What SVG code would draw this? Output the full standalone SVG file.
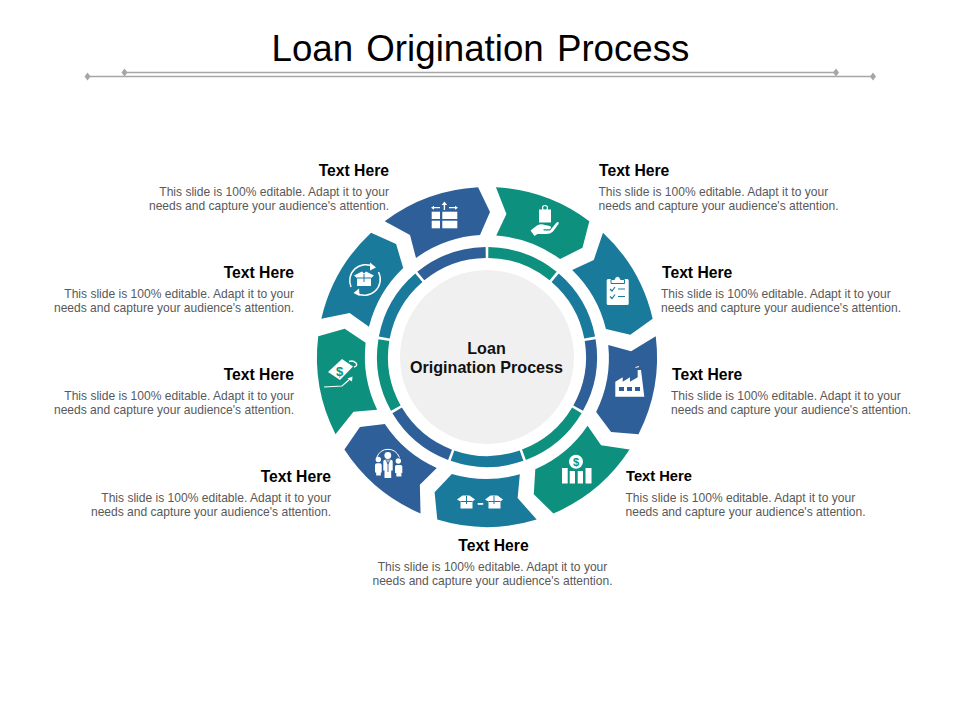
<svg xmlns="http://www.w3.org/2000/svg" width="960" height="720" viewBox="0 0 960 720">
<style>
text{font-family:"Liberation Sans",Arial,sans-serif}
.t{font-size:36.7px;fill:#000;word-spacing:3px}
.h{font-size:15.7px;font-weight:700;fill:#000}
.b{font-size:12.05px;fill:#595959}
.c{font-size:16.1px;font-weight:700;fill:#111;text-anchor:middle}
.e{text-anchor:end}
.m{text-anchor:middle}
.blue{fill:#2f5f98}.green{fill:#0e907e}.teal{fill:#1a7a9b}
.ablue{stroke:#2f5f98}.agreen{stroke:#0e907e}.ateal{stroke:#1a7a9b}
.arc{fill:none;stroke-width:11}
.rule{stroke:#a6a6a6;stroke-width:1.5}
.dia{fill:#a6a6a6}
.w{fill:#fff}
.ws{fill:none;stroke:#fff;stroke-width:1.5}
</style>
<defs>
<path id="seg" d="M384.700 221.200A170 170 0 0 1 478.100 187.200L490 212L480 235A122 122 0 0 0 416 258L410 235Z"/>
<path id="rng" d="M420.800 276.100A104.500 104.500 0 0 1 485.700 252.500"/>
<path id="dm" d="M0-4L3-0L0 4L-3 0Z"/>
</defs>
<rect width="960" height="720" fill="#fff"/>
<g id="title">
<text class="t m" x="480.500" y="61">Loan Origination Process</text>
<line class="rule" x1="124" y1="72.500" x2="836" y2="72.500"/>
<line class="rule" x1="87" y1="76.500" x2="873" y2="76.500"/>
<use href="#dm" class="dia" x="124.500" y="72.500"/><use href="#dm" class="dia" x="836" y="72.500"/>
<use href="#dm" class="dia" x="87.500" y="76.500"/><use href="#dm" class="dia" x="873" y="76.500"/>
</g>
<g id="center">
<circle cx="487" cy="357" r="87" fill="#f0f0f0"/>
<text class="c" x="486.500" y="354">Loan</text>
<text class="c" x="486.500" y="373">Origination Process</text>
</g>
<g id="node-1">
<use href="#seg" class="blue"/><use href="#rng" class="arc ablue"/>
<g class="w">
<rect x="431.700" y="211.700" width="8.300" height="7.300"/><rect x="431.700" y="220.700" width="8.300" height="7.600"/>
<rect x="442.300" y="211.700" width="15" height="7.300"/><rect x="442.300" y="220.700" width="15" height="7.600"/>
<path d="M444.400 201.500L447.200 205H445.100V210H443.700V205H441.600Z"/>
<path d="M431 207.700L434 205.700V207.100H440V208.300H434V209.700Z"/>
<path d="M458 207.700L455 205.700V207.100H449V208.300H455V209.700Z"/>
</g>
<text class="h e" x="389" y="175.500">Text Here</text>
<text class="b e" x="389" y="196">This slide is 100% editable. Adapt it to your</text>
<text class="b e" x="389" y="210">needs and capture your audience's attention.</text>
</g>
<g id="node-2">
<use href="#seg" class="green" transform="rotate(40 487 357)"/><use href="#rng" class="arc agreen" transform="rotate(40 487 357)"/>
<path class="w" d="M539 209.500H551V222.500H539Z"/>
<circle cx="545" cy="208" r="2.500" fill="none" stroke="#fff" stroke-width="1.200"/>
<path class="w" d="M530.500 230.500L537 225.500Q541 223.500 545 225L550 226Q552.500 228 549.500 229.300H543.500V230.500H550L556.500 222.500Q559.500 221 558.500 224L553 231.500Q550.500 234 546 234H537.500L534.500 236Z"/>
<text class="h" x="599" y="175.500">Text Here</text>
<text class="b" x="598.500" y="196">This slide is 100% editable. Adapt it to your</text>
<text class="b" x="598.500" y="210">needs and capture your audience's attention.</text>
</g>
<g id="node-3">
<use href="#seg" class="teal" transform="rotate(80 487 357)"/><use href="#rng" class="arc ateal" transform="rotate(80 487 357)"/>
<rect class="w" x="606.700" y="279" width="22" height="26" rx="1.500"/>
<path class="w" stroke="#1a7a9b" stroke-width="1" d="M611 283.500V279.500H614.500A3 3 0 0 1 620.500 279.500H624.500V283.500Z"/>
<path fill="none" stroke="#1a7a9b" stroke-width="1.200" d="M610 289L612 291L615 287M618 289H625M610 296.500L612 298.500L615 294.500M618 296.500H625"/>
<text class="h" x="662" y="277.500">Text Here</text>
<text class="b" x="661" y="298">This slide is 100% editable. Adapt it to your</text>
<text class="b" x="661" y="312">needs and capture your audience's attention.</text>
</g>
<g id="node-4">
<use href="#seg" class="blue" transform="rotate(120 487 357)"/><use href="#rng" class="arc ablue" transform="rotate(120 487 357)"/>
<path class="w" d="M615.300 396.700V381.700L622.700 377.300V381.700L630 377.300V381.700L637.700 377.300V370H641L644.300 396.700Z"/>
<g class="blue"><rect x="619" y="387" width="5" height="4"/><rect x="627" y="387" width="5" height="4"/><rect x="635" y="387" width="5" height="4"/></g>
<path fill="none" stroke="#fff" d="M635.500 367.500L639 366.500"/>
<text class="h" x="672" y="379.500">Text Here</text>
<text class="b" x="671" y="400">This slide is 100% editable. Adapt it to your</text>
<text class="b" x="671" y="414">needs and capture your audience's attention.</text>
</g>
<g id="node-5">
<use href="#seg" class="green" transform="rotate(160 487 357)"/><use href="#rng" class="arc agreen" transform="rotate(160 487 357)"/>
<circle class="w" cx="576" cy="461.700" r="7"/>
<text x="576" y="465.500" font-size="11" font-weight="700" fill="#0e907e" text-anchor="middle">$</text>
<g class="w"><rect x="562" y="468" width="5.700" height="15.500"/><rect x="569.700" y="471" width="5.300" height="12.500"/><rect x="577.700" y="471" width="5.300" height="12.500"/><rect x="585.500" y="468" width="6" height="15.500"/></g>
<text class="h" x="626" y="480.500" style="font-size:14.700px">Text Here</text>
<text class="b" x="625.500" y="502">This slide is 100% editable. Adapt it to your</text>
<text class="b" x="625.500" y="516">needs and capture your audience's attention.</text>
</g>
<g id="node-6">
<use href="#seg" class="teal" transform="rotate(200 487 357)"/><use href="#rng" class="arc ateal" transform="rotate(200 487 357)"/>
<path class="w" d="M457 499.500L462.500 495.500H469.500L475 499.500L472.500 501.500V508.500H460.500V501.500Z"/>
<path class="w" d="M485 499.500L490.500 495.500H497.500L503 499.500L500.500 501.500V508.500H488.500V501.500Z"/>
<path fill="none" stroke="#1a7a9b" d="M466.500 496V504M494 496V504M460.500 501.500H472.500M488.500 501.500H500.500"/>
<rect class="w" x="477.700" y="503" width="5.500" height="1.800"/>
<text class="h m" x="493.500" y="550.500">Text Here</text>
<text class="b m" x="492.500" y="571">This slide is 100% editable. Adapt it to your</text>
<text class="b m" x="492.500" y="585">needs and capture your audience's attention.</text>
</g>
<g id="node-7">
<use href="#seg" class="blue" transform="rotate(240 487 357)"/><use href="#rng" class="arc ablue" transform="rotate(240 487 357)"/>
<g class="w">
<circle cx="387.800" cy="455.500" r="3.400"/>
<path d="M383.300 461.500Q383.300 459.800 385 459.800H390.700Q392.700 459.800 392.700 461.500V470.500H391.200V478H384.500V470.500H383.300Z"/>
<circle cx="378.300" cy="459.500" r="2.700"/>
<path d="M375 465Q375 463.300 377 463.300H380Q381.700 463.300 381.700 465V472.500H380.800V475.500H376.200V472.500H375Z"/>
<circle cx="398.300" cy="461" r="2.700"/>
<path d="M395 466.500Q395 465 396.800 465H400.500Q402.300 465 402.300 466.500V473H401.400V476.500H396.300V473H395Z"/>
</g>
<path fill="none" stroke="#2f5f98" stroke-width=".9" d="M388 460V472M386 460L388 464L390 460"/>
<path fill="none" stroke="#fff" stroke-width="1" d="M376.700 457.500Q380 449.300 388 449.300Q396 449.300 399.500 457.500"/>
<text class="h e" x="331" y="481.500">Text Here</text>
<text class="b e" x="331" y="502">This slide is 100% editable. Adapt it to your</text>
<text class="b e" x="331" y="516">needs and capture your audience's attention.</text>
</g>
<g id="node-8">
<use href="#seg" class="green" transform="rotate(280 487 357)"/><use href="#rng" class="arc agreen" transform="rotate(280 487 357)"/>
<path class="w" d="M342 359L353 366.500L340 380L328 372Z"/>
<path fill="none" stroke="#fff" stroke-width="1.400" d="M349 361.500Q353 360 356 363Q358 366 354 367"/>
<text x="339.500" y="376" font-size="13" font-weight="700" fill="#0e907e" text-anchor="middle">$</text>
<path fill="none" stroke="#fff" stroke-width="1.200" d="M324 387L342 386L350 379"/>
<path class="w" d="M352.500 376.500L352 381.500L347.500 378.500Z"/>
<text class="h e" x="294" y="379.500">Text Here</text>
<text class="b e" x="294" y="400">This slide is 100% editable. Adapt it to your</text>
<text class="b e" x="294" y="414">needs and capture your audience's attention.</text>
</g>
<g id="node-9">
<use href="#seg" class="teal" transform="rotate(320 487 357)"/><use href="#rng" class="arc ateal" transform="rotate(320 487 357)"/>
<path class="ws" d="M351 287A16 16 0 0 1 374 267"/>
<path class="ws" d="M378.500 272A16 16 0 0 1 356 293"/>
<path class="w" d="M370 262.500L376 267.500L370 270.500Z"/>
<path class="w" d="M359 288.500L353.500 293L359.500 296Z"/>
<path class="w" d="M354 275.500L362 271.500L364 273.500L366 271.500L374 275.500L371 278V286H357V278Z"/>
<path fill="none" stroke="#1a7a9b" d="M357 278H371M364 274V282"/>
<text class="h e" x="294" y="277.500">Text Here</text>
<text class="b e" x="294" y="298">This slide is 100% editable. Adapt it to your</text>
<text class="b e" x="294" y="312">needs and capture your audience's attention.</text>
</g>
</svg>
